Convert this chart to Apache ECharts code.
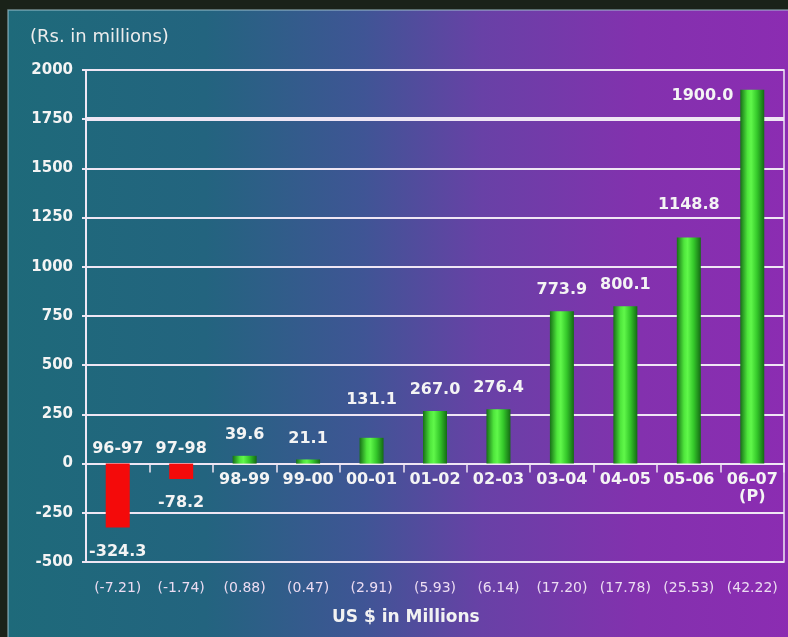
<!DOCTYPE html>
<html>
<head>
<meta charset="utf-8">
<script src="https://cdn.jsdelivr.net/npm/echarts@6/dist/echarts.min.js"></script>
<style>
html,body{margin:0;padding:0;background:#1a2219;}
#chart{width:788px;height:637px;}
</style>
</head>
<body>
<div id="chart"></div>
<script>
// ---- data ----
const categories = ['96-97','97-98','98-99','99-00','00-01','01-02','02-03','03-04','04-05','05-06','06-07\n(P)'];
const values = [-324.3, -78.2, 39.6, 21.1, 131.1, 267.0, 276.4, 773.9, 800.1, 1148.8, 1900.0];
const usdLabels = ['(-7.21)','(-1.74)','(0.88)','(0.47)','(2.91)','(5.93)','(6.14)','(17.20)','(17.78)','(25.53)','(42.22)'];
const yTicks = {min: -500, max: 2000, interval: 250};
const emphLine = 1750;
const yTitle = '(Rs. in millions)';
const xTitle = 'US $ in Millions';

// ---- styles ----
const FONT = 'DejaVu Sans';
const lineCol = '#efe6f4';
const txtCol = '#f4f4f4';
const greenGrad = {
  type:'linear', x:0, y:0, x2:1, y2:0,
  colorStops:[
    {offset:0, color:'#177017'},
    {offset:0.3, color:'#4fe63c'},
    {offset:0.45, color:'#60f84a'},
    {offset:0.7, color:'#34c82a'},
    {offset:1, color:'#146a14'}
  ]
};
const redCol = '#f40a0a';
const labelDist = {4: 30, 9: 25};

const barData = values.map((v, i) => {
  const item = {value: v, itemStyle: {color: v < 0 ? redCol : greenGrad}};
  if (v < 0) {
    item.label = {position: 'bottom', distance: 16};
  } else if (i === values.length - 1) {
    item.label = {position: [-7, -2], align: 'right', verticalAlign: 'top'};
  } else if (labelDist[i] !== undefined) {
    item.label = {distance: labelDist[i]};
  }
  return item;
});

const chart = echarts.init(document.getElementById('chart'), null, {renderer:'canvas'});
chart.setOption({
  backgroundColor: '#1a2219',
  animation: false,
  graphic: [
    {
      type:'rect', z:-10, silent:true,
      shape:{x:8, y:10, width:790, height:640},
      style:{
        fill:{type:'linear', x:0, y:0, x2:1, y2:0, colorStops:[
          {offset:0, color:'#1e6a7a'},
          {offset:0.25, color:'#23647f'},
          {offset:0.45, color:'#3f5595'},
          {offset:0.6, color:'#6841a6'},
          {offset:0.8, color:'#8331ae'},
          {offset:1, color:'#8c2cb2'}
        ]},
        stroke:'rgba(170,205,215,0.6)', lineWidth:1.5
      }
    },
    {
      type:'text', left:30, top:28,
      style:{text: yTitle, fill:'#ececec', font:'18px "' + FONT + '"'}
    },
    {
      type:'text', left:332, top:609,
      style:{text: xTitle, fill:'#f2f2f2', font:'bold 17px "' + FONT + '"'}
    }
  ],
  grid: {
    left: 86, right: 4, top: 70, bottom: 75,
    show: true, borderColor: lineCol, borderWidth: 1.5, backgroundColor: 'transparent'
  },
  xAxis: [
    {
      type:'category', data: categories, position:'bottom',
      axisLine:{onZero:true, lineStyle:{color:lineCol, width:2}},
      axisTick:{show:true, interval:0, length:9, lineStyle:{color:lineCol, width:1.5}},
      axisLabel:{show:false},
      splitLine:{show:false}
    },
    {
      type:'category', data: usdLabels, position:'bottom',
      axisLine:{show:false}, axisTick:{show:false},
      axisLabel:{show:true, interval:0, margin:19, color:'#ecdcf2', fontFamily:FONT, fontSize:14},
      splitLine:{show:false}
    }
  ],
  yAxis: [
    {
      type:'value', min: yTicks.min, max: yTicks.max, interval: yTicks.interval,
      axisLine:{show:true, lineStyle:{color:lineCol, width:2}},
      axisTick:{show:true, length:4, lineStyle:{color:lineCol, width:2}},
      axisLabel:{color:txtCol, fontFamily:FONT, fontWeight:'bold', fontSize:15, margin:13,
        formatter: v => String(v)},
      splitLine:{show:true, lineStyle:{color:lineCol, width:2}}
    },
    {
      type:'value', min: yTicks.min, max: yTicks.max, interval: emphLine - yTicks.min,
      position:'left',
      axisLine:{show:false}, axisTick:{show:false}, axisLabel:{show:false},
      splitLine:{show:true, lineStyle:{color:['rgba(0,0,0,0)', lineCol, 'rgba(0,0,0,0)'], width:4}}
    }
  ],
  series: [
    {
      type:'bar', xAxisIndex:0, yAxisIndex:0, barWidth:24, z:3,
      data: barData,
      label:{
        show:true, position:'top', distance:13,
        color:txtCol, fontFamily:FONT, fontWeight:'bold', fontSize:16,
        formatter: p => Number(p.value).toFixed(1)
      }
    },
    {
      type:'custom', xAxisIndex:0, yAxisIndex:0, z:4, silent:true,
      encode:{x:0, y:1},
      data: categories.map((c, i) => [i, values[i]]),
      renderItem: function (params, api) {
        const i = api.value(0);
        const v = api.value(1);
        const p = api.coord([i, 0]);
        return {
          type:'text',
          x: p[0], y: v < 0 ? p[1] - 6 : p[1] + 8,
          style:{
            text: categories[i], align:'center',
            verticalAlign: v < 0 ? 'bottom' : 'top',
            fill: txtCol, font: 'bold 16px "' + FONT + '"', lineHeight: 17
          }
        };
      }
    }
  ]
});
</script>
</body>
</html>
